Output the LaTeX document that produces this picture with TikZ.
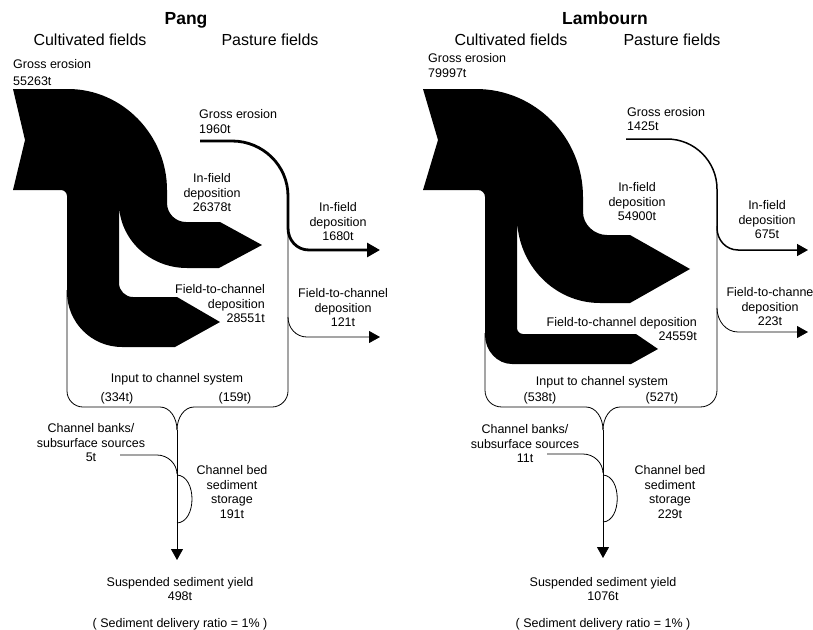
\documentclass[tikz,border=0pt]{standalone}
\usepackage{fontspec}
\setmainfont{Liberation Sans}
\usetikzlibrary{arrows.meta}

\begin{document}
\begin{tikzpicture}[x=1pt,y=-1pt,
  lbl/.style={font=\fontsize{12.5}{14.5}\selectfont,inner sep=0pt,align=center},
  head/.style={font=\fontsize{16}{18}\selectfont,inner sep=0pt},
  ttl/.style={font=\fontsize{17.5}{20}\selectfont\bfseries,inner sep=0pt},
  band/.style={fill=black},
  wire/.style={line width=0.8pt},
  tip/.style={-{Triangle[length=11pt,width=12pt]}},
  bigtip/.style={-{Triangle[length=13pt,width=14pt]}}]
\useasboundingbox (0,0) rectangle (813,629);

% Pang
\node[ttl,anchor=base] (pTitle) at (186,24) {Pang};
\node[head,anchor=base] (pCult) at (90,45) {Cultivated fields};
\node[head,anchor=base] (pPast) at (270,45) {Pasture fields};
\node[lbl,anchor=north west,align=left] (pGross) at (13,59) {Gross erosion\\[2.5pt]55263t};
\node[lbl,anchor=north west,align=left] (pGrossP) at (199,109.5) {Gross erosion\\1960t};

\fill[band] (13,89) -- (68,89)
  .. controls (122.7,89) and (167,135.3) .. (167,190)
  -- (167,203)
  .. controls (167,213.5) and (175.5,222) .. (186,222)
  -- (220,222) -- (262,245) -- (219,268) -- (187,268)
  .. controls (149.4,268) and (119,238.9) .. (119,203)
  -- (119,283)
  .. controls (119,290.7) and (125.3,297) .. (133,297)
  -- (177,297) -- (220,322) -- (175,347) -- (122,347)
  .. controls (91.6,347) and (67,322.4) .. (67,292)
  -- (67,196)
  .. controls (67,192.7) and (64.3,190) .. (61,190)
  -- (13,190) -- (25,140) -- cycle;

\draw[line width=2.8pt,bigtip] (200,141) -- (232,141)
  .. controls (262.9,141) and (288,165.6) .. (288,196) -- (288,228)
  .. controls (288,240.2) and (296.8,250) .. (309,250) -- (380,250);
\draw[wire,tip] (288,317) .. controls (288,328) and (296,337) .. (307,337) -- (380,337);
\draw[wire] (67,290) -- (67,391) .. controls (67,399.8) and (74.2,407) .. (83,407)
  -- (160,407) .. controls (170,407) and (177,418) .. (177,430);
\draw[wire] (288,226) -- (288,391) .. controls (288,399.8) and (280.8,407) .. (272,407)
  -- (194,407) .. controls (184,407) and (177,418) .. (177,430);
\draw[wire,tip] (177,430) -- (177,560);
\draw[wire] (120,455) -- (157,455) .. controls (168,455) and (177,464) .. (177,474);
\draw[wire] (177,475) .. controls (197,476) and (197,522) .. (177,523);

\node[lbl,anchor=north] (pInfield) at (212,173.5) {In-field\\deposition\\26378t};
\node[lbl,anchor=north east,align=right] (pFtc) at (265,284.5) {Field-to-channel\\deposition\\28551t};
\node[lbl,anchor=north] (pInfieldP) at (338,202.5) {In-field\\deposition\\1680t};
\node[lbl,anchor=north] (pFtcP) at (343,288.5) {Field-to-channel\\deposition\\121t};
\node[lbl,anchor=base] (pInput) at (177,382.5) {Input to channel system};
\node[lbl,anchor=base] (pInC) at (117,401.5) {(334t)};
\node[lbl,anchor=base] (pInP) at (235,401.5) {(159t)};
\node[lbl,anchor=north] (pBanks) at (91,423.5) {Channel banks/\\subsurface sources\\5t};
\node[lbl,anchor=north] (pBed) at (232,465.5) {Channel bed\\sediment\\storage\\191t};
\node[lbl,anchor=north] (pYield) at (180,577) {Suspended sediment yield\\498t};
\node[lbl,anchor=base] (pRatio) at (180,627.5) {( Sediment delivery ratio = 1\% )};

% Lambourn
\node[ttl,anchor=base] (lTitle) at (605,24) {Lambourn};
\node[head,anchor=base] (lCult) at (511,45) {Cultivated fields};
\node[head,anchor=base] (lPast) at (672,45) {Pasture fields};
\node[lbl,anchor=north west,align=left] (lGross) at (428,53.5) {Gross erosion\\79997t};
\node[lbl,anchor=north west,align=left] (lGrossP) at (627,107) {Gross erosion\\1425t};

\fill[band] (423,89) -- (476,89)
  .. controls (535.1,89) and (583,137.4) .. (583,197)
  -- (583,212)
  .. controls (583,224.7) and (594.3,235) .. (607,235)
  -- (630,235) -- (690,269) -- (630,303) -- (600,303)
  .. controls (554.2,303) and (517,264.5) .. (517,217)
  -- (517,328)
  .. controls (517,331.3) and (519.7,334) .. (523,334)
  -- (636,334) -- (658,349) -- (631,364) -- (512,364)
  .. controls (497,364) and (485,350.5) .. (485,335)
  -- (485,197)
  .. controls (485,193.1) and (481.9,190) .. (478,190)
  -- (423,190) -- (438,140) -- cycle;

\draw[line width=1.5pt,tip] (626,139) -- (667,139)
  .. controls (694.6,139) and (717,161.4) .. (717,189) -- (717,228)
  .. controls (717,240) and (726,250) .. (738,250) -- (808,250);
\draw[wire,tip] (717,308) .. controls (717,321) and (726,332) .. (738,332) -- (808,332);
\draw[wire] (485,333) -- (485,390) .. controls (485,399.9) and (492.1,407) .. (502,407)
  -- (586,407) .. controls (596,407) and (603,418) .. (603,430);
\draw[wire] (717,226) -- (717,390) .. controls (717,399.9) and (709.9,407) .. (700,407)
  -- (620,407) .. controls (610,407) and (603,418) .. (603,430);
\draw[wire,tip] (603,430) -- (603,558);
\draw[wire] (547,454) -- (583,454) .. controls (594,454) and (603,463) .. (603,473);
\draw[wire] (603,475) .. controls (622,476) and (622,521) .. (603,522);

\node[lbl,anchor=north] (lInfield) at (637,182.5) {In-field\\deposition\\54900t};
\node[lbl,anchor=base east] (lFtc) at (697,326.5) {Field-to-channel deposition};
\node[lbl,anchor=base east] (lFtcVal) at (697,340.5) {24559t};
\node[lbl,anchor=north] (lInfieldP) at (767,200.5) {In-field\\deposition\\675t};
\node[lbl,anchor=north] (lFtcP) at (770,287.5) {Field-to-channe\\deposition\\223t};
\node[lbl,anchor=base] (lInput) at (602,385.5) {Input to channel system};
\node[lbl,anchor=base] (lInC) at (540,401.5) {(538t)};
\node[lbl,anchor=base] (lInP) at (662,401.5) {(527t)};
\node[lbl,anchor=north] (lBanks) at (525,424.5) {Channel banks/\\subsurface sources\\11t};
\node[lbl,anchor=north] (lBed) at (670,465.5) {Channel bed\\sediment\\storage\\229t};
\node[lbl,anchor=north] (lYield) at (603,577) {Suspended sediment yield\\1076t};
\node[lbl,anchor=base] (lRatio) at (603,627.5) {( Sediment delivery ratio = 1\% )};
\end{tikzpicture}
\end{document}
